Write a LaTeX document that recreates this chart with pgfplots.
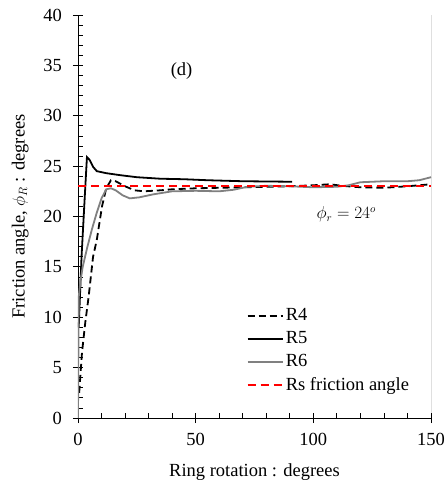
\documentclass[border=0pt]{standalone}
\usepackage{fontspec}
\setmainfont{Liberation Serif}
\usepackage{pgfplots}
\pgfplotsset{compat=1.18}
\begin{document}
\fontsize{18.5}{22}\selectfont
\begin{tikzpicture}
\path[use as bounding box] (-78pt,-67pt) rectangle (369pt,418pt);
\begin{axis}[
  scale only axis, width=353pt, height=403pt,
  xmin=0, xmax=150, ymin=0, ymax=40,
  axis x line*=bottom, axis y line*=left,
  xtick={0,50,100,150}, ytick={0,5,...,40},
  minor x tick num=4, minor y tick num=4,
  tick align=center, major tick length=10pt, minor tick length=5pt,
  every minor x tick/.append style={yshift=2.5pt},
  every minor y tick/.append style={xshift=2.5pt},
  tick style={black, line width=0.8pt},
  axis line style={line width=0.8pt},
  /pgf/number format/assume math mode=true,
  ticklabel style={font=\fontsize{18.5}{22}\selectfont},
  xticklabel style={yshift=-4pt},
  yticklabel style={inner xsep=11pt},
  xlabel={Ring rotation : degrees},
  ylabel={Friction angle, $\phi_R$ : degrees},
  label style={font=\fontsize{18.5}{22}\selectfont},
  xlabel style={at={(axis description cs:0.5,-0.134)}, anchor=center},
  ylabel style={at={(axis description cs:-0.164,0.5)}, anchor=center},
  legend style={draw=none, fill=none, at={(rel axis cs:0.477,0.277)}, anchor=north west,
    font=\fontsize{18.5}{22}\selectfont, row sep=4pt, inner sep=0pt},
  legend cell align=left,
  legend image code/.code={\draw[#1] (0pt,0pt) -- (35pt,0pt);},
]
\addplot[black, line width=1.8pt, dash pattern=on 7pt off 4pt] coordinates {
 (0.5,2.5) (1.7,6.5) (3.1,9.5) (4.5,12) (6.4,16) (8,17.7) (10.2,21) (12,22.8)
 (14,23.6) (16,23.5) (20,23.0) (24,22.6) (28,22.5) (35,22.6) (40,22.7) (50,22.8)
 (60,22.85) (70,22.9) (80,22.95) (90,23.0) (100,23.1) (107,23.2) (112,23.05)
 (120,22.9) (130,22.85) (140,23.0) (150,23.2) };
\addlegendentry{R4}
\addplot[black, line width=1.8pt] coordinates {
 (0.3,9) (1.5,16) (3,22.5) (3.8,25.9) (5,25.6) (6.5,24.9) (8,24.5) (12,24.3)
 (18,24.1) (25,23.9) (35,23.75) (45,23.7) (55,23.6) (70,23.5) (91,23.45) };
\addlegendentry{R5}
\addplot[gray, line width=1.8pt] coordinates {
 (0,0) (0.3,12) (1,13.5) (2,15) (4,17) (6,18.8) (8,20.4) (10,21.8) (12,22.7)
 (14,22.8) (16,22.6) (19,22.1) (22,21.8) (26,21.9) (32,22.2) (40,22.5) (50,22.55)
 (60,22.5) (66,22.65) (72,22.95) (80,23.05) (90,23.0) (100,22.9) (110,22.95)
 (115,23.1) (120,23.4) (130,23.5) (140,23.5) (145,23.6) (150,23.9) };
\addlegendentry{R6}
\addplot[red, line width=2.2pt, dash pattern=on 8pt off 5pt] coordinates {
 (0,23) (150,23) };
\addlegendentry{Rs friction angle}
\draw[line width=0.8pt] (rel axis cs:1,0) -- (rel axis cs:1,1);
\node[font=\fontsize{18.5}{22}\selectfont] at (axis cs:44,34.4) {(d)};
\node[font=\fontsize{16}{19}\selectfont] at (axis cs:114,20.2) {$\phi_r = 24^{o}$};
\end{axis}
\end{tikzpicture}
\end{document}
